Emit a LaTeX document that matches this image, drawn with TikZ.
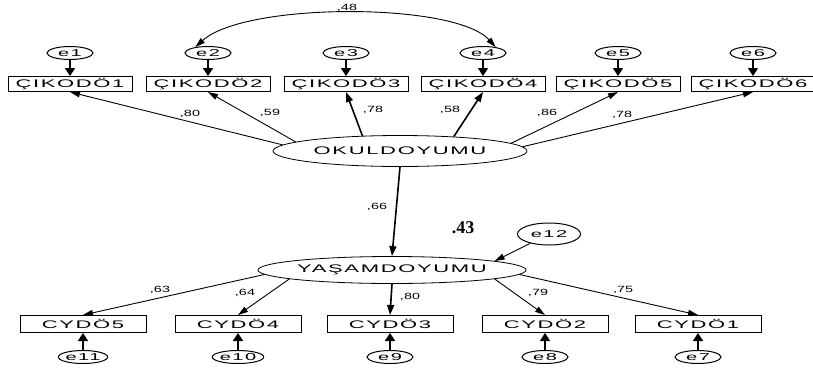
\documentclass[tikz,border=0pt]{standalone}
\usepackage{fontspec}
\setmainfont{Liberation Serif}
\newfontfamily\amosfont[FakeStretch=2,LetterSpace=15]{Liberation Sans}
\newfontfamily\coeffont[FakeStretch=1.6]{Liberation Sans}
\usetikzlibrary{arrows.meta,shapes.geometric}

\tikzset{
  obs/.style={draw, line width=1pt, minimum width=124pt, minimum height=15pt, inner sep=0pt,
    font=\amosfont\fontsize{11}{11}\selectfont},
  lat/.style={draw, ellipse, line width=0.8pt, minimum width=254pt, minimum height=31pt, inner sep=0pt,
    font=\amosfont\fontsize{11}{11}\selectfont},
  err/.style={draw, ellipse, line width=1pt, minimum width=46pt, minimum height=13pt, inner sep=0pt,
    font=\amosfont\fontsize{10}{10}\selectfont},
  coef/.style={inner sep=0pt, font=\coeffont\fontsize{9}{9}\selectfont},
  load/.style={line width=0.9pt, -{Triangle[length=10pt,width=6pt]}},
  loadthick/.style={line width=1.6pt, -{Triangle[length=10pt,width=7pt]}},
  errarr/.style={line width=1.6pt, -{Triangle[length=8pt,width=10pt]}},
  cov/.style={line width=0.9pt, {Triangle[length=10pt,width=6pt]}-{Triangle[length=10pt,width=6pt]}}
}

\begin{document}
\begin{tikzpicture}[x=1pt,y=-1pt]
\useasboundingbox (0,0) rectangle (813,370);

%% school satisfaction
    \node[obs] (k1) at (70,84) {ÇIKODÖ1};
    \node[obs] (k2) at (208,84) {ÇIKODÖ2};
    \node[obs] (k3) at (346,84) {ÇIKODÖ3};
    \node[obs] (k4) at (483,84) {ÇIKODÖ4};
    \node[obs] (k5) at (618,84) {ÇIKODÖ5};
    \node[obs] (k6) at (753,84) {ÇIKODÖ6};

    \node[err] (e1) at (70,53) {e1};
    \node[err] (e2) at (208,53) {e2};
    \node[err] (e3) at (346,53) {e3};
    \node[err] (e4) at (483,53) {e4};
    \node[err] (e5) at (618,53) {e5};
    \node[err] (e6) at (753,53) {e6};
    \foreach \i in {1,...,6}
        \draw[errarr] (e\i) -- (k\i);

    \draw[cov] (e2.155) .. controls (245,2) and (455,2) .. (e4.25);
    \node[coef] (r24) at (347,8) {,48};

    \node[lat] (okul) at (400,151) {OKULDOYUMU};
    \draw[load] (okul.177) -- (k1.south);
    \draw[load] (okul.175) -- (k2.south);
    \draw[loadthick] (okul.158) -- (k3.south);
    \draw[loadthick] (okul.15) -- (k4.south);
    \draw[load] (okul.4) -- (k5.south);
    \draw[load] (okul.2.5) -- (k6.south);
    \node[coef] (l1) at (190,114) {,80};
    \node[coef] (l2) at (270,113) {,59};
    \node[coef] (l3) at (373,110) {,78};
    \node[coef] (l4) at (450,110) {,58};
    \node[coef] (l5) at (547,113) {,86};
    \node[coef] (l6) at (622,115) {,78};

%% life satisfaction
    \node[lat, minimum height=27pt] (yasam) at (392,270) {YAŞAMDOYUMU};
    \draw[loadthick] (okul.south) -- (yasam.north);
    \node[coef] (b) at (377,207) {,66};
    \node[font=\bfseries\fontsize{18}{18}\selectfont, inner sep=0pt] (r2) at (463,228) {.43};

    \node[err, minimum width=63pt, minimum height=22pt] (e12) at (549,234) {e12};
    \draw[load] (e12) -- (yasam.5);

    \node[obs, minimum width=126pt, minimum height=17pt] (c5) at (83,324) {CYDÖ5};
    \node[obs, minimum width=126pt, minimum height=17pt] (c4) at (238,324) {CYDÖ4};
    \node[obs, minimum width=126pt, minimum height=17pt] (c3) at (390,324) {CYDÖ3};
    \node[obs, minimum width=126pt, minimum height=17pt] (c2) at (545,324) {CYDÖ2};
    \node[obs, minimum width=126pt, minimum height=17pt] (c1) at (698,324) {CYDÖ1};

    \draw[load] (yasam.-178) -- (c5.north);
    \draw[load] (yasam.-175) -- (c4.north);
    \draw[loadthick] (yasam.south) -- (c3.north);
    \draw[load] (yasam.-5) -- (c2.north);
    \draw[load] (yasam.-2.5) -- (c1.north);
    \node[coef] (m5) at (160,290) {,63};
    \node[coef] (m4) at (245,293) {,64};
    \node[coef] (m3) at (410,297) {,80};
    \node[coef] (m2) at (538,293) {,79};
    \node[coef] (m1) at (623,290) {,75};

    \node[err] (e11) at (83,357) {e11};
    \node[err] (e10) at (238,357) {e10};
    \node[err] (e9) at (390,357) {e9};
    \node[err] (e8) at (545,357) {e8};
    \node[err] (e7) at (698,357) {e7};
    \draw[errarr] (e11) -- (c5);
    \draw[errarr] (e10) -- (c4);
    \draw[errarr] (e9) -- (c3);
    \draw[errarr] (e8) -- (c2);
    \draw[errarr] (e7) -- (c1);

\end{tikzpicture}
\end{document}
